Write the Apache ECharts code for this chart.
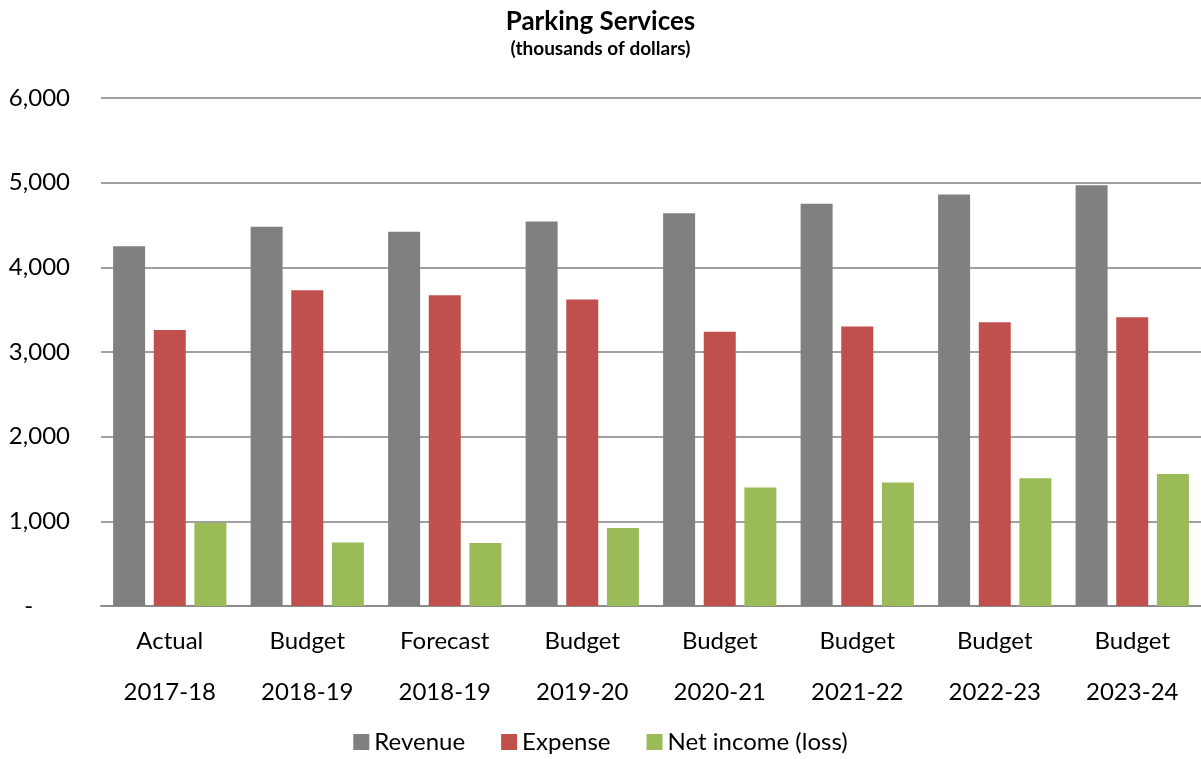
<!DOCTYPE html>
<html>
<head>
<meta charset="utf-8">
<script src="https://cdn.jsdelivr.net/npm/echarts@6/dist/echarts.min.js"></script>
<style>
  html, body { margin: 0; padding: 0; background: #fff; }
  #chart { width: 1201px; height: 759px; }
</style>
</head>
<body>
<div id="chart"></div>
<script>
// data (thousands of dollars)
var periods = ['Actual\n2017-18', 'Budget\n2018-19', 'Forecast\n2018-19', 'Budget\n2019-20',
               'Budget\n2020-21', 'Budget\n2021-22', 'Budget\n2022-23', 'Budget\n2023-24'];
var revenue = [4250, 4480, 4420, 4540, 4640, 4750, 4860, 4970];
var expense = [3260, 3730, 3670, 3620, 3240, 3300, 3350, 3410];
var netIncome = [980, 750, 745, 920, 1400, 1460, 1510, 1560];

var font = 'Lato, "Open Sans", sans-serif';

var chart = echarts.init(document.getElementById('chart'));

var option = {
  animation: false,
  title: {
    text: 'Parking Services',
    subtext: '(thousands of dollars)',
    left: 'center',
    top: 4,
    itemGap: 4,
    textStyle: { fontFamily: font, fontSize: 26, fontWeight: 'bold', color: '#000' },
    subtextStyle: { fontFamily: font, fontSize: 19, fontWeight: 'bold', color: '#000' }
  },
  legend: {
    bottom: 0,
    left: 'center',
    itemWidth: 16,
    itemHeight: 16,
    itemGap: 36,
    icon: 'rect',
    textStyle: { fontFamily: font, fontSize: 24, color: '#000' },
    data: ['Revenue', 'Expense', 'Net income (loss)']
  },
  grid: {
    left: 101,
    right: -4,
    top: 98,
    bottom: 153
  },
  xAxis: {
    type: 'category',
    data: periods,
    axisTick: { show: false },
    axisLine: { lineStyle: { color: '#8c8c8c', width: 2 } },
    axisLabel: {
      margin: 10,
      fontFamily: font,
      fontSize: 24,
      color: '#000',
      lineHeight: 51
    }
  },
  yAxis: {
    type: 'value',
    min: 0,
    max: 6000,
    interval: 1000,
    axisLine: { show: false },
    axisTick: { show: false },
    splitLine: { lineStyle: { color: '#a0a0a0', width: 2 } },
    axisLabel: {
      margin: 31,
      fontFamily: font,
      fontSize: 24,
      color: '#000',
      formatter: function (v) {
        return v === 0 ? '-      ' : v.toLocaleString('en-US');
      }
    }
  },
  series: [
    {
      name: 'Revenue',
      type: 'bar',
      data: revenue,
      barWidth: 32,
      barGap: '27%',
      itemStyle: { color: '#808080' }
    },
    {
      name: 'Expense',
      type: 'bar',
      data: expense,
      barWidth: 32,
      barGap: '27%',
      itemStyle: { color: '#C0504D' }
    },
    {
      name: 'Net income (loss)',
      type: 'bar',
      data: netIncome,
      barWidth: 32,
      barGap: '27%',
      itemStyle: { color: '#9BBB59' }
    }
  ]
};

chart.setOption(option);
</script>
</body>
</html>
